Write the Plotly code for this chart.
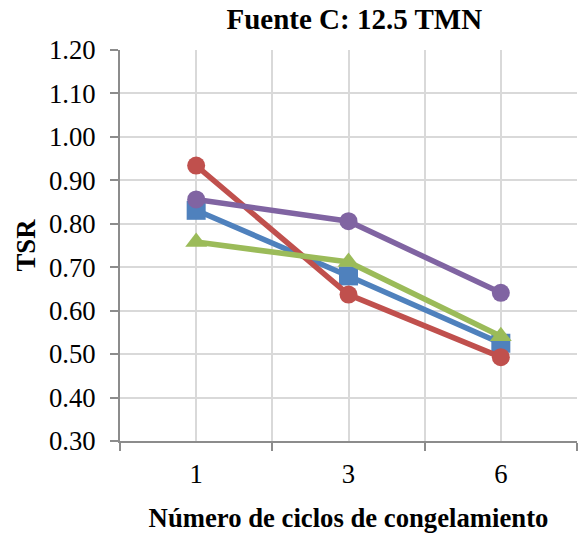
import plotly.graph_objects as go

categories = ["1", "3", "6"]
serie_azul = [0.831, 0.680, 0.525]
serie_roja = [0.934, 0.637, 0.493]
serie_verde = [0.758, 0.712, 0.541]
serie_morada = [0.856, 0.806, 0.641]

x_pos = list(range(len(categories)))

series = [
    (serie_azul, "#4F81BD", "square", 19),
    (serie_roja, "#C0504D", "circle", 18),
    (serie_verde, "#9BBB59", "triangle-up", 19),
    (serie_morada, "#8064A2", "circle", 18),
]

fig = go.Figure()
for vals, color, sym, sz in series:
    fig.add_trace(go.Scatter(
        x=x_pos, y=vals, mode="lines+markers",
        line=dict(color=color, width=5.5),
        marker=dict(symbol=sym, size=sz, color=color),
        showlegend=False, hoverinfo="skip",
    ))

font_family = "Liberation Serif, Times New Roman, serif"

fig.update_layout(
    width=578, height=537,
    margin=dict(l=120, r=1, t=50, b=96),
    paper_bgcolor="white", plot_bgcolor="white",
    font=dict(family=font_family, size=26.7, color="black"),
    title=dict(text="<b>Fuente C: 12.5 TMN</b>", x=0.613, xanchor="center",
               y=0.965, yanchor="middle", font=dict(size=29, family=font_family)),
)

fig.update_xaxes(
    range=[-0.5, len(categories) - 0.5],
    tickmode="array", tickvals=x_pos, ticktext=categories,
    ticks="", showgrid=True, gridcolor="#D9D9D9", gridwidth=2,
    minor=dict(tick0=-0.5, dtick=1, ticks="outside", ticklen=8, tickcolor="#8C8C8C",
               tickwidth=2, showgrid=True, gridcolor="#D9D9D9", gridwidth=2),
    showline=True, linecolor="#8C8C8C", linewidth=2,
    ticklabelstandoff=8,
    zeroline=False,
    title=dict(text="<b>Número de ciclos de congelamiento</b>", standoff=20,
               font=dict(size=26.7)),
)

fig.update_yaxes(
    range=[0.30, 1.20], tickmode="linear", tick0=0.30, dtick=0.10,
    tickformat=".2f",
    ticks="outside", ticklen=8, tickcolor="#8C8C8C", tickwidth=2,
    showgrid=True, gridcolor="#D9D9D9", gridwidth=2,
    showline=True, linecolor="#8C8C8C", linewidth=2,
    mirror=False, zeroline=False,
    ticklabelstandoff=9,
    title=dict(text="<b>TSR</b>", standoff=6, font=dict(size=26.7)),
)

fig.write_html("out.html")
